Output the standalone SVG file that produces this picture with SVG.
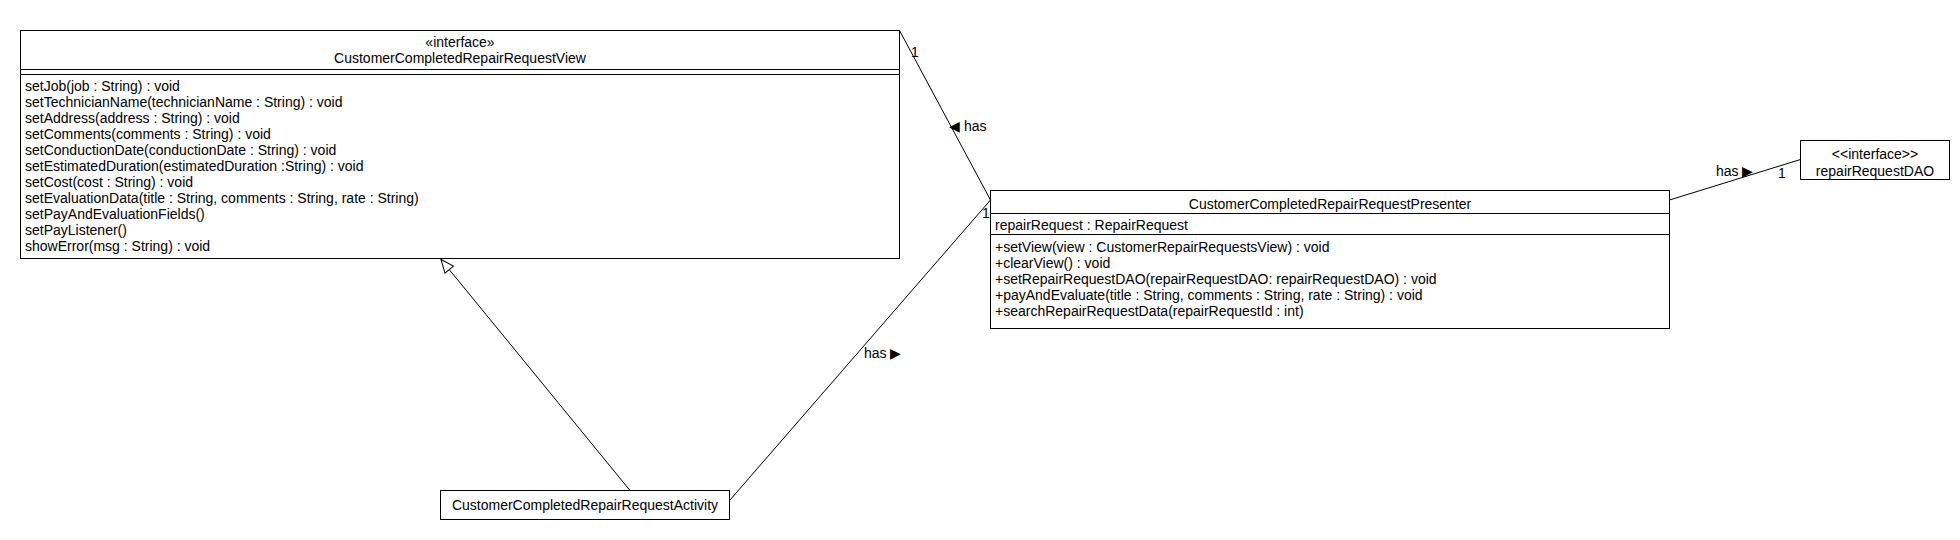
<svg xmlns="http://www.w3.org/2000/svg" width="1960" height="540" viewBox="0 0 1960 540">
<style>
.box{fill:#fff;stroke:#000;stroke-width:1}
.ln{fill:none;stroke:#000;stroke-width:1}
text{font-family:"Liberation Sans",Arial,sans-serif;font-size:14px;fill:#000}
.c{text-anchor:middle}
.g{font-family:"DejaVu Sans","Liberation Sans",sans-serif;font-size:14px}
</style>
<defs>
<marker id="tri" markerWidth="16" markerHeight="16" refX="1" refY="7" orient="auto" markerUnits="userSpaceOnUse">
<path d="M1,7 L14,1.5 L14,12.5 Z" fill="#fff" stroke="#000" stroke-width="1"/>
</marker>
</defs>
<rect width="1960" height="540" fill="#fff"/>
<g id="connectors">
<line class="ln" x1="899.5" y1="30.5" x2="990.5" y2="200"/>
<line class="ln" x1="730" y1="500" x2="990.5" y2="200"/>
<line class="ln" x1="1669.5" y1="200" x2="1800.5" y2="159.5"/>
<line class="ln" x1="441" y1="259.5" x2="630" y2="490.5" marker-start="url(#tri)"/>
<text x="911" y="57">1</text>
<text x="949" y="131" class="g">◀</text>
<text x="964" y="131">has</text>
<text x="982" y="218">1</text>
<text x="864" y="358">has</text>
<text x="890" y="358" class="g">▶</text>
<text x="1716" y="176">has</text>
<text x="1742" y="176" class="g">▶</text>
<text x="1778" y="178">1</text>
</g>
<g id="view">
<rect class="box" x="20.5" y="30.5" width="879" height="228"/>
<line class="ln" x1="20.5" y1="69.5" x2="899.5" y2="69.5"/>
<line class="ln" x1="20.5" y1="74.5" x2="899.5" y2="74.5"/>
<text class="c" x="460" y="46.5">«interface»</text>
<text class="c" x="460" y="62.5">CustomerCompletedRepairRequestView</text>
<text x="25" y="90.5">setJob(job : String) : void</text>
<text x="25" y="106.5">setTechnicianName(technicianName : String) : void</text>
<text x="25" y="122.5">setAddress(address : String) : void</text>
<text x="25" y="138.5">setComments(comments : String) : void</text>
<text x="25" y="154.5">setConductionDate(conductionDate : String) : void</text>
<text x="25" y="170.5">setEstimatedDuration(estimatedDuration :String) : void</text>
<text x="25" y="186.5">setCost(cost : String) : void</text>
<text x="25" y="202.5">setEvaluationData(title : String, comments : String, rate : String)</text>
<text x="25" y="218.5">setPayAndEvaluationFields()</text>
<text x="25" y="234.5">setPayListener()</text>
<text x="25" y="250.5">showError(msg : String) : void</text>
</g>
<g id="presenter">
<rect class="box" x="990.5" y="190.5" width="679" height="138"/>
<line class="ln" x1="990.5" y1="213.5" x2="1669.5" y2="213.5"/>
<line class="ln" x1="990.5" y1="234.5" x2="1669.5" y2="234.5"/>
<text class="c" x="1330" y="208.5">CustomerCompletedRepairRequestPresenter</text>
<text x="995" y="229.5">repairRequest : RepairRequest</text>
<text x="995" y="251.5">+setView(view : CustomerRepairRequestsView) : void</text>
<text x="995" y="267.5">+clearView() : void</text>
<text x="995" y="283.5">+setRepairRequestDAO(repairRequestDAO: repairRequestDAO) : void</text>
<text x="995" y="299.5">+payAndEvaluate(title : String, comments : String, rate : String) : void</text>
<text x="995" y="315.5">+searchRepairRequestData(repairRequestId : int)</text>
</g>
<g id="dao">
<rect class="box" x="1800.5" y="140.5" width="149" height="39"/>
<text class="c" x="1875" y="158.5">&lt;&lt;interface&gt;&gt;</text>
<text class="c" x="1875" y="175.5">repairRequestDAO</text>
</g>
<g id="activity">
<rect class="box" x="440.5" y="490.5" width="289" height="29"/>
<text class="c" x="585" y="509.5">CustomerCompletedRepairRequestActivity</text>
</g>
</svg>
